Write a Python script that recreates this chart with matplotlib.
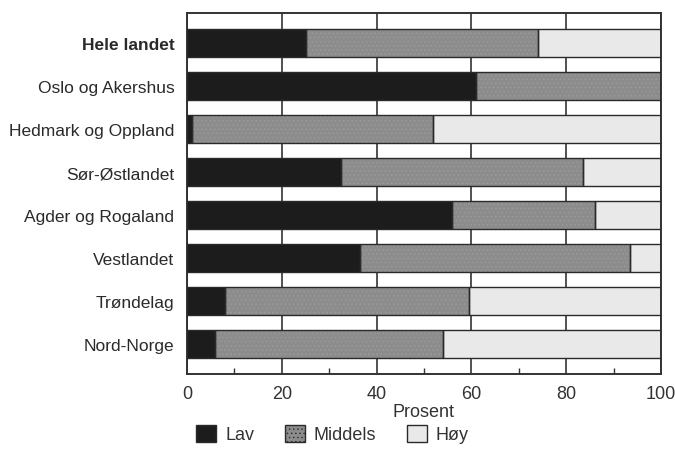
import numpy as np
import matplotlib.pyplot as plt
from matplotlib.patches import Patch
from matplotlib.ticker import MultipleLocator

regions = ["Hele landet", "Oslo og Akershus", "Hedmark og Oppland", "Sør-Østlandet",
           "Agder og Rogaland", "Vestlandet", "Trøndelag", "Nord-Norge"]
lav = [25, 61, 1, 32.5, 56, 36.5, 8, 6]
middels = [49, 39, 51, 51, 30, 57, 51.5, 48]
hoy = [26, 0, 48, 16.5, 14, 6.5, 40.5, 46]

series = [("Lav", lav, "#1c1c1c", None),
          ("Middels", middels, "#8c8c8c", "...."),
          ("Høy", hoy, "#e9e9e9", None)]

plt.rcParams['font.family'] = ['Liberation Sans', 'DejaVu Sans']
plt.rcParams['hatch.color'] = '#9c9c9c'
plt.rcParams['hatch.linewidth'] = 0.5

fig = plt.figure(figsize=(6.75, 4.56), dpi=100)
ax = fig.add_axes([187 / 675, 1 - 375 / 456, (661 - 187) / 675, (375 - 14) / 456])

y = np.arange(len(regions))
left = np.zeros(len(regions))
for name, vals, col, hatch in series:
    vals = np.array(vals, dtype=float)
    # fill (hatch colour comes from rcParams when no edgecolor is given)
    ax.barh(y, vals, left=left, height=0.67, color=col, hatch=hatch, linewidth=0, zorder=2)
    # outline on top
    ax.barh(y, vals, left=left, height=0.67, fill=False, edgecolor='#2a2a2a', linewidth=1.0, zorder=3)
    left += vals

ax.set_xlim(0, 100)
ax.set_ylim(len(regions) - 0.3, -0.7)
ax.set_yticks(y)
ax.set_yticklabels(regions, fontsize=12.5, color='#2a2a2a')
ax.get_yticklabels()[0].set_fontweight('bold')
ax.tick_params(axis='y', length=0, pad=9)

ax.set_xticks(np.arange(0, 101, 20))
ax.xaxis.set_minor_locator(MultipleLocator(10))
ax.tick_params(axis='x', which='major', length=0, pad=8, labelsize=13, labelcolor='#333333')
ax.tick_params(axis='x', which='minor', direction='in', length=4, width=1, color='#333333')
ax.grid(axis='x', which='major', color='#333333', linewidth=1.2, zorder=0)
ax.set_axisbelow(True)
ax.set_xlabel("Prosent", fontsize=13, color='#333333', labelpad=1)

for sp in ax.spines.values():
    sp.set_color('#333333')
    sp.set_linewidth(1.4)

handles = [Patch(facecolor=col, edgecolor='#2a2a2a', hatch=hatch, label=name)
           for name, vals, col, hatch in series]
fig.legend(handles=handles, loc='lower left', bbox_to_anchor=(180 / 675, -0.01),
           ncol=3, frameon=False, fontsize=13, handlelength=1.1, handleheight=1.1,
           handletextpad=0.5, columnspacing=1.7, labelcolor='#333333')

fig.savefig("out.png", dpi=100, facecolor='white')
